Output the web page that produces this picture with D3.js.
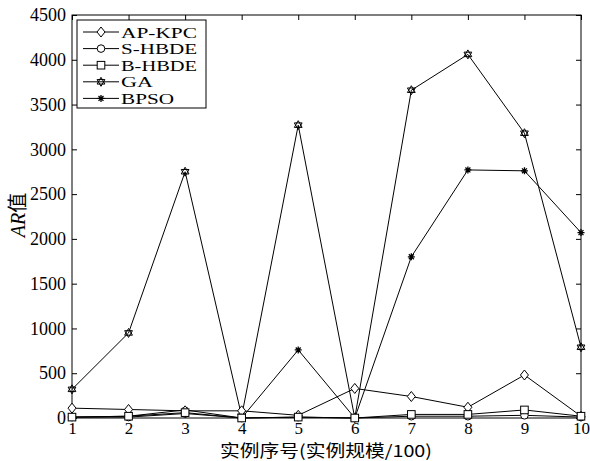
<!DOCTYPE html>
<html><head><meta charset="utf-8">
<script src="https://cdn.jsdelivr.net/npm/d3@7"></script>
<style>body{margin:0;background:#fff}</style>
</head><body>
<svg id="c" width="590" height="461"></svg>
<script>
const categories = [1,2,3,4,5,6,7,8,9,10];
const apkpc = [110, 95, 80, 80, 30, 330, 240, 120, 480, 20];
const shbde = [10, 10, 50, 0, 10, 0, 20, 20, 30, 10];
const bhbde = [10, 20, 60, 0, 10, 0, 40, 40, 90, 20];
const ga    = [320, 950, 2750, 20, 3270, 0, 3660, 4060, 3180, 790];
const bpso  = [10, 20, 90, 0, 760, 0, 1800, 2770, 2760, 2070];
const yTicks = [0,500,1000,1500,2000,2500,3000,3500,4000,4500];
const seriesNames = ["AP-KPC","S-HBDE","B-HBDE","GA","BPSO"];
const seriesData = [apkpc, shbde, bhbde, ga, bpso];
const markers = ["diamond","circle","square","hexagram","asterisk"];

const svg = d3.select("#c");
const L=72, R=581, T=15, B=418;
const x = d3.scaleLinear().domain([1,10]).range([L,R]);
const y = d3.scaleLinear().domain([0,4500]).range([B,T]);
const serif = "'Liberation Serif','DejaVu Serif',serif";

// frame
svg.append("rect").attr("x",L).attr("y",T).attr("width",R-L).attr("height",B-T)
  .attr("fill","none").attr("stroke","#000").attr("stroke-width",1);

// axes with inward ticks
const xa = svg.append("g").attr("transform",`translate(0,${B})`)
  .call(d3.axisBottom(x).tickValues(categories).tickSize(-5).tickPadding(4).tickFormat(d3.format("d")));
const xt = svg.append("g").attr("transform",`translate(0,${T})`)
  .call(d3.axisTop(x).tickValues(categories).tickSize(-5).tickFormat(""));
const ya = svg.append("g").attr("transform",`translate(${L},0)`)
  .call(d3.axisLeft(y).tickValues(yTicks).tickSize(-5).tickPadding(6).tickFormat(d3.format("d")));
const yr = svg.append("g").attr("transform",`translate(${R},0)`)
  .call(d3.axisRight(y).tickValues(yTicks).tickSize(-5).tickFormat(""));
[xa,xt,ya,yr].forEach(g=>{
  g.select(".domain").remove();
  g.selectAll("line").attr("stroke","#000");
  g.selectAll("text").attr("font-family",serif).attr("font-size",18).attr("fill","#000");
});
xa.selectAll("text").attr("font-size",17);

// marker drawing
function drawMarker(g, type, cx, cy){
  const s = "#000";
  if(type==="diamond"){
    g.append("path").attr("d",`M${cx},${cy-5}L${cx+4},${cy}L${cx},${cy+5}L${cx-4},${cy}Z`)
      .attr("fill","#fff").attr("stroke",s).attr("stroke-width",1);
  } else if(type==="circle"){
    g.append("circle").attr("cx",cx).attr("cy",cy).attr("r",3.8)
      .attr("fill","#fff").attr("stroke",s).attr("stroke-width",1);
  } else if(type==="square"){
    g.append("rect").attr("x",cx-3.8).attr("y",cy-3.8).attr("width",7.6).attr("height",7.6)
      .attr("fill","#fff").attr("stroke",s).attr("stroke-width",1);
  } else if(type==="hexagram"){
    const r=4.5, pts1=[], pts2=[];
    for(let i=0;i<3;i++){
      const a1=-Math.PI/2+i*2*Math.PI/3, a2=Math.PI/2+i*2*Math.PI/3;
      pts1.push([cx+r*Math.cos(a1),cy+r*Math.sin(a1)]);
      pts2.push([cx+r*Math.cos(a2),cy+r*Math.sin(a2)]);
    }
    g.append("path").attr("d","M"+pts1.join("L")+"Z").attr("fill","none").attr("stroke",s).attr("stroke-width",1);
    g.append("path").attr("d","M"+pts2.join("L")+"Z").attr("fill","none").attr("stroke",s).attr("stroke-width",1);
  } else if(type==="asterisk"){
    const r=3.5;
    let d="";
    for(let i=0;i<4;i++){
      const a=i*Math.PI/4;
      d+=`M${cx-r*Math.cos(a)},${cy-r*Math.sin(a)}L${cx+r*Math.cos(a)},${cy+r*Math.sin(a)}`;
    }
    g.append("path").attr("d",d).attr("stroke",s).attr("stroke-width",1.3);
  }
}

const line = d3.line().x((d,i)=>x(categories[i])).y(d=>y(d));
const plot = svg.append("g");
[3,4,0,1,2].forEach(k=>{
  const g = plot.append("g");
  g.append("path").datum(seriesData[k]).attr("d",line)
    .attr("fill","none").attr("stroke","#000").attr("stroke-width",1);
  seriesData[k].forEach((v,i)=>drawMarker(g, markers[k], x(categories[i]), y(v)));
});

// legend
const legendWidths = [76, 76, 76, 32, 53];
const lg = svg.append("g");
lg.append("rect").attr("x",77).attr("y",20).attr("width",129).attr("height",88)
  .attr("fill","#fff").attr("stroke","#000").attr("stroke-width",1);
seriesNames.forEach((n,i)=>{
  const yy = 32 + i*16.6;
  lg.append("line").attr("x1",83).attr("x2",119).attr("y1",yy).attr("y2",yy)
    .attr("stroke","#000").attr("stroke-width",1);
  drawMarker(lg, markers[i], 101, yy);
  lg.append("text").attr("x",121).attr("y",yy+5.5).text(n)
    .attr("font-family",serif).attr("font-size",15).attr("fill","#000")
    .attr("textLength", legendWidths[i]).attr("lengthAdjust","spacingAndGlyphs");
});

// axis labels
svg.append("text").attr("x",326).attr("y",457).attr("text-anchor","middle")
  .attr("font-family","'Noto Sans CJK SC',sans-serif").attr("font-size",16.5).attr("fill","#000")
  .attr("textLength",212).attr("lengthAdjust","spacingAndGlyphs")
  .text("实例序号(实例规模/100)");
const yl = svg.append("text").attr("transform","translate(25,215) rotate(-90)")
  .attr("text-anchor","middle").attr("font-size",20).attr("fill","#000");
yl.append("tspan").attr("font-family",serif).attr("font-style","italic").text("AR");
yl.append("tspan").attr("font-family","'Noto Sans CJK SC',sans-serif").text("值");
</script>
</body></html>
